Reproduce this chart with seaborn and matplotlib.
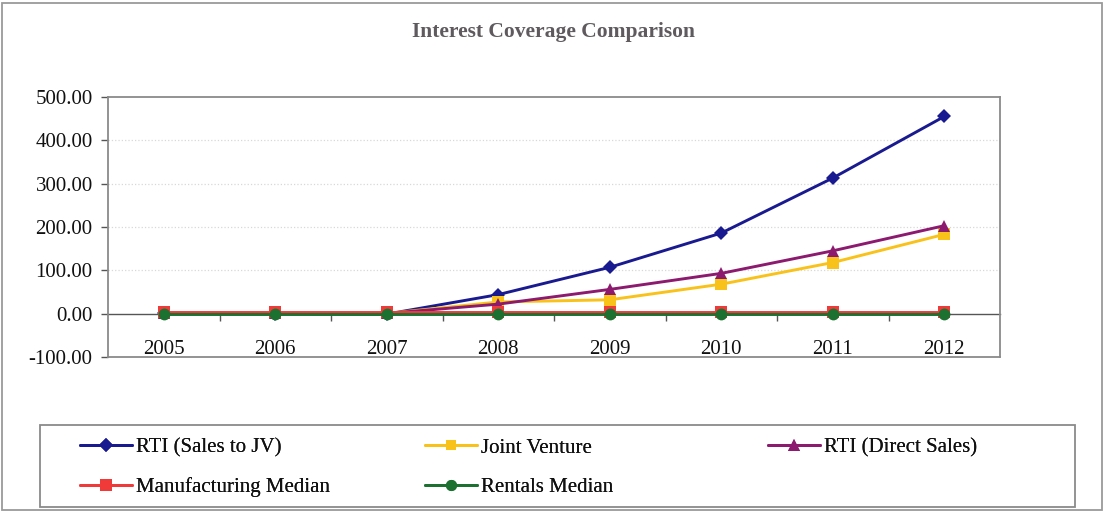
import matplotlib
matplotlib.use("Agg")
import matplotlib.pyplot as plt
from matplotlib.lines import Line2D
from matplotlib.patches import Rectangle
import seaborn as sns
import pandas as pd

years = ["2005", "2006", "2007", "2008", "2009", "2010", "2011", "2012"]
rti_sales_jv = [0.5, 0.3, -1.0, 44, 107, 186, 313, 455]
joint_venture = [0.5, 0.5, 0.5, 27, 32, 68, 118, 183]
rti_direct = [0.5, 0.5, 0.5, 22, 56, 93, 145, 203]
manufacturing_median = [3.5, 3.5, 3.5, 3.5, 3.5, 3.5, 3.5, 3.5]
rentals_median = [0.3, 0.3, 0.3, 0.3, 0.3, 0.3, 0.3, 0.3]

series_names = ["RTI (Sales to JV)", "Joint Venture", "RTI (Direct Sales)",
                "Manufacturing Median", "Rentals Median"]
series_values = [rti_sales_jv, joint_venture, rti_direct,
                 manufacturing_median, rentals_median]
y_ticks = [-100, 0, 100, 200, 300, 400, 500]

colors = {"RTI (Sales to JV)": "#1a1a90",
          "Joint Venture": "#f9c21a",
          "RTI (Direct Sales)": "#8c1a6e",
          "Manufacturing Median": "#f03a3a",
          "Rentals Median": "#1c7030"}
markers = {"RTI (Sales to JV)": "D",
           "Joint Venture": "s",
           "RTI (Direct Sales)": "^",
           "Manufacturing Median": "s",
           "Rentals Median": "o"}
msizes = {"RTI (Sales to JV)": 7.5,
          "Joint Venture": 8,
          "RTI (Direct Sales)": 9,
          "Manufacturing Median": 8.5,
          "Rentals Median": 8.5}

rows = []
for name, vals in zip(series_names, series_values):
    for y, v in zip(years, vals):
        rows.append({"Year": y, "Value": v, "Series": name})
df = pd.DataFrame(rows)

sns.set_theme(style="white")
plt.rcParams["font.family"] = ["Liberation Serif", "DejaVu Serif"]

fig = plt.figure(figsize=(11.05, 5.12), dpi=100)
ax = fig.add_axes([108 / 1105, 1 - 357 / 512, 892 / 1105, 260 / 512])

for name in series_names:
    sub = df[df["Series"] == name]
    sns.lineplot(data=sub, x="Year", y="Value", ax=ax, color=colors[name],
                 marker=markers[name], markersize=msizes[name],
                 markeredgewidth=0, linewidth=2.1, legend=False, sort=False)

ax.set_xlim(-0.5, 7.5)
ax.set_ylim(-100, 500)
ax.set_yticks(y_ticks)
ax.set_yticklabels([f"{v:.2f}" for v in y_ticks])
ax.set_xlabel("")
ax.set_ylabel("")

# x category labels (minor ticks), tick marks between categories (major)
ax.set_xticks([i + 0.5 for i in range(len(years) - 1)])
ax.set_xticklabels([])
ax.set_xticks(range(len(years)), minor=True)
ax.set_xticklabels(years, minor=True)
ax.tick_params(axis="x", which="major", direction="out", length=5,
               width=1, color="#555555", bottom=True)
ax.tick_params(axis="x", which="minor", length=0, pad=19, labelsize=15,
               labelcolor="#111111")
ax.tick_params(axis="y", direction="out", length=5, width=1, color="#555555",
               left=True, pad=6, labelsize=15, labelcolor="#111111")

for v in [100, 200, 300, 400]:
    ax.axhline(v, color="#d8d8d8", linestyle=":", linewidth=0.9, zorder=0)

for side in ["top", "right", "left"]:
    ax.spines[side].set_color("#8a8a8a")
    ax.spines[side].set_linewidth(1.3)
ax.spines["bottom"].set_position(("data", 0))
ax.spines["bottom"].set_color("#555555")
ax.spines["bottom"].set_linewidth(1.0)
ax.spines["bottom"].set_zorder(0.5)
ax.axhline(-100, color="#8a8a8a", linewidth=1.3, clip_on=False)

fig.text(554 / 1105, 1 - 32 / 512, "Interest Coverage Comparison",
         ha="center", va="center", fontsize=15.5, fontweight="bold",
         color="#5e5a5e")

# Legend box
fig.add_artist(Rectangle((40 / 1105, 1 - 507 / 512), 1035 / 1105, 82 / 512,
                         transform=fig.transFigure, fill=False,
                         edgecolor="#8a8a8a", linewidth=1.3))
# Outer border
fig.add_artist(Rectangle((2 / 1105, 2 / 512), 1100 / 1105, 507 / 512,
                         transform=fig.transFigure, fill=False,
                         edgecolor="#9a9a9a", linewidth=1.3))

def handle(name):
    return Line2D([], [], color=colors[name], marker=markers[name],
                  markersize=msizes[name] - 0.5, markeredgewidth=0,
                  linewidth=2.1)

columns = [(80, ["RTI (Sales to JV)", "Manufacturing Median"]),
           (425, ["Joint Venture", "Rentals Median"]),
           (768, ["RTI (Direct Sales)"])]
for xpx, names in columns:
    leg = fig.legend([handle(n) for n in names], names,
                     loc="upper left",
                     bbox_to_anchor=(xpx / 1105, 1 - 438 / 512),
                     frameon=False, fontsize=15, handlelength=2.5,
                     handletextpad=0.2, borderpad=0, borderaxespad=0,
                     labelspacing=0.95)
    for t in leg.get_texts():
        t.set_color("#111111")
    fig.add_artist(leg)

fig.savefig("out.png", dpi=100)
